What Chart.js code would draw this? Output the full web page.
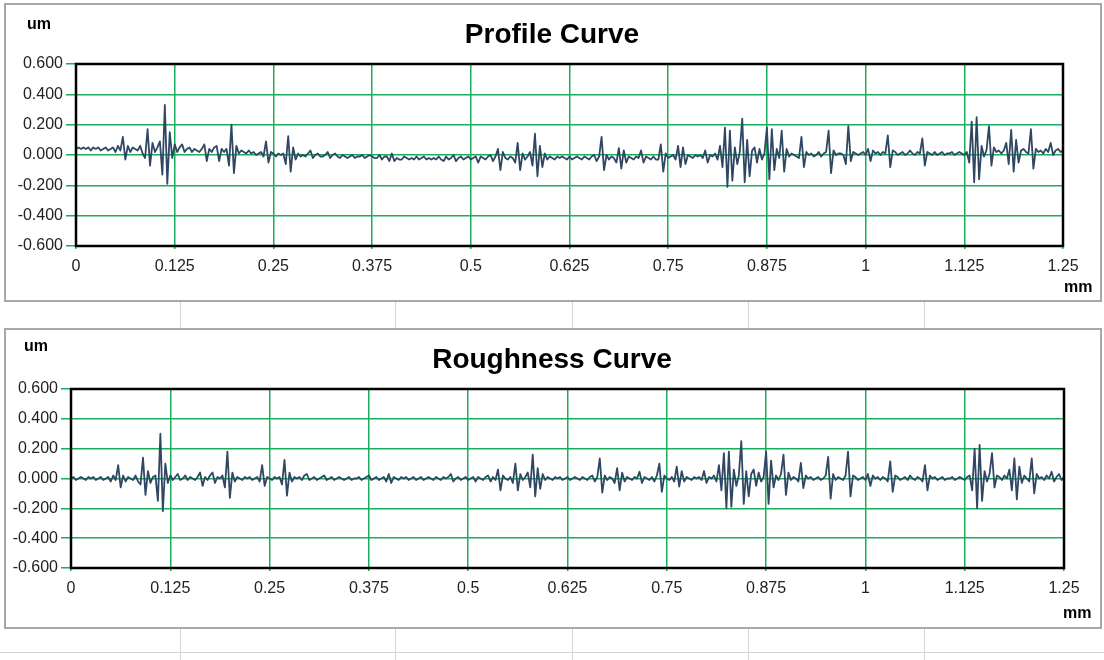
<!DOCTYPE html>
<html>
<head>
<meta charset="utf-8">
<script src="https://cdn.jsdelivr.net/npm/chart.js@4/dist/chart.umd.min.js"></script>
<style>
  body { margin: 0; background: #fff; font-family: Arial, "Liberation Sans", sans-serif; }
  #page { position: relative; width: 1104px; height: 660px; overflow: hidden; }
  .panel { position: absolute; left: 4px; width: 1094px; border: 2px solid #a8a8a8; background: #fff; }
  .cell-v { position: absolute; width: 1px; background: #d4d4d4; }
  .cell-h { position: absolute; height: 1px; background: #d4d4d4; }
  .txt { position: absolute; color: #000; white-space: nowrap; }
  .title { left: 0; width: 1104px; text-align: center; font-size: 28px; font-weight: bold; line-height: 32px; }
  .unit { font-size: 16px; font-weight: bold; line-height: 20px; }
  canvas { position: absolute; left: 0; }
</style>
</head>
<body>
<div id="page">
  <!-- spreadsheet cell lines behind the charts -->
  <div class="cell-v" style="left:180px;top:302px;height:28px"></div>
  <div class="cell-v" style="left:395px;top:302px;height:28px"></div>
  <div class="cell-v" style="left:572px;top:302px;height:28px"></div>
  <div class="cell-v" style="left:748px;top:302px;height:28px"></div>
  <div class="cell-v" style="left:924px;top:302px;height:28px"></div>
  <div class="cell-v" style="left:180px;top:629px;height:31px"></div>
  <div class="cell-v" style="left:395px;top:629px;height:31px"></div>
  <div class="cell-v" style="left:572px;top:629px;height:31px"></div>
  <div class="cell-v" style="left:748px;top:629px;height:31px"></div>
  <div class="cell-v" style="left:924px;top:629px;height:31px"></div>
  <div class="cell-h" style="left:0;top:652px;width:1104px"></div>

  <div class="panel" style="top:3px;height:295px"></div>
  <div class="panel" style="top:328px;height:297px"></div>

  <canvas id="profileChart" width="1104" height="300" style="top:0;width:1104px;height:300px"></canvas>
  <canvas id="roughChart" width="1104" height="360" style="top:300px;width:1104px;height:360px"></canvas>

  <div class="txt title" style="top:18px">Profile Curve</div>
  <div class="txt unit" style="left:27px;top:14px">um</div>
  <div class="txt unit" style="left:1064px;top:277px">mm</div>

  <div class="txt title" style="top:343px">Roughness Curve</div>
  <div class="txt unit" style="left:24px;top:336px">um</div>
  <div class="txt unit" style="left:1063px;top:603px">mm</div>
</div>

<script>
// sampling grid along the trace (mm)
const sampleStep = 0.003125;

const xTickLabels = ['0', '0.125', '0.25', '0.375', '0.5', '0.625', '0.75', '0.875', '1', '1.125', '1.25'];
const yTickLabels = ['-0.600', '-0.400', '-0.200', '0.000', '0.200', '0.400', '0.600'];

// profile curve, um (one row = 0.0625 mm)
const profileValues = [
  0.04,0.05,0.04,0.05,0.04,0.05,0.03,0.05,0.04,0.05,0.03,0.04,0.05,0.03,0.04,0.05,0.02,0.06,0.03,0.12,
  -0.03,0.06,0.02,0.05,0.04,0.03,0.06,0.01,-0.02,0.17,-0.07,0.08,0.02,0.05,0.09,-0.13,0.33,-0.19,0.15,-0.02,
  0.07,0.02,0.05,0.07,0.02,0.04,0.05,0.02,0.04,0.03,0.02,0.04,0.07,-0.04,0.04,0.02,0.05,0.06,-0.04,0.04,
  0.02,0.04,-0.07,0.20,-0.12,0.06,0.01,0.03,0.02,0.01,0.03,0.01,0.02,0.00,0.01,0.02,-0.01,0.09,-0.05,0.02,
  0.01,-0.01,0.01,0.00,0.01,-0.06,0.125,-0.11,0.05,-0.03,0.01,-0.01,0.00,-0.01,0.01,0.03,-0.02,0.00,0.01,-0.01,
  -0.01,0.00,0.02,-0.02,0.00,0.01,-0.01,-0.02,0.00,-0.01,-0.02,-0.01,0.00,-0.02,-0.01,-0.01,0.00,-0.02,-0.01,0.00,
  -0.01,-0.02,-0.02,0.00,-0.03,-0.01,-0.01,-0.04,0.01,-0.04,-0.02,-0.03,-0.03,-0.01,-0.02,-0.03,-0.02,-0.03,-0.01,-0.03,
  -0.02,-0.01,-0.03,-0.02,-0.03,-0.02,-0.03,-0.01,-0.03,-0.04,-0.01,-0.03,-0.02,0.00,-0.04,-0.02,-0.01,-0.03,-0.02,-0.01,
  -0.03,-0.02,-0.01,-0.05,-0.01,-0.02,-0.03,-0.01,0.00,-0.04,-0.01,0.04,-0.10,0.02,-0.02,-0.03,-0.01,-0.02,-0.05,0.08,
  -0.10,0.01,-0.03,-0.01,0.02,-0.07,0.14,-0.14,0.06,-0.08,0.01,-0.03,-0.01,-0.02,-0.03,-0.01,-0.02,-0.01,-0.02,-0.03,
  -0.01,-0.03,-0.02,-0.01,-0.02,-0.03,-0.01,-0.02,-0.03,-0.01,0.00,-0.04,-0.01,0.12,-0.10,0.00,-0.03,-0.01,-0.02,-0.05,
  0.045,-0.09,0.03,-0.05,-0.01,-0.02,-0.03,-0.01,-0.02,0.03,-0.05,-0.01,-0.02,-0.03,-0.01,-0.03,-0.03,0.07,-0.11,0.01,
  -0.02,-0.01,0.00,-0.03,0.06,-0.08,0.05,-0.06,0.00,-0.01,-0.02,0.00,-0.01,0.00,-0.02,0.03,-0.05,0.00,-0.01,0.01,
  -0.03,0.06,-0.08,0.18,-0.21,0.16,-0.17,0.05,-0.06,0.02,0.24,-0.18,0.10,-0.14,0.03,0.05,-0.05,0.04,-0.03,0.01,
  0.18,-0.16,0.17,-0.10,0.04,-0.02,0.16,-0.11,0.04,-0.01,0.01,0.00,-0.01,-0.02,0.12,-0.08,0.02,0.00,0.01,-0.01,
  0.00,0.02,-0.01,0.01,0.02,0.16,-0.12,0.03,0.00,0.01,0.01,0.00,-0.06,0.19,-0.04,0.02,0.01,0.00,0.01,0.02,
  0.00,0.04,-0.04,0.03,0.01,0.02,0.00,0.02,0.01,0.13,-0.08,0.03,0.02,0.00,0.01,0.02,0.00,0.01,0.03,0.01,
  0.00,0.02,0.01,0.11,-0.07,0.02,0.01,0.00,0.02,0.00,0.01,0.02,0.00,0.01,0.01,0.02,0.00,0.01,0.02,0.01,
  0.00,0.02,-0.05,0.22,-0.18,0.25,-0.16,0.06,-0.01,0.03,0.19,-0.07,0.05,0.02,0.03,0.01,0.03,0.08,-0.06,0.165,
  -0.11,0.10,-0.05,0.03,0.04,0.02,0.01,0.17,-0.09,0.04,0.02,0.03,0.01,0.04,0.02,0.08,0.00,0.03,0.04,0.02,
  0.03
];

// roughness curve, um
const roughnessValues = [
  0.00,0.01,-0.01,0.00,0.01,0.00,-0.01,0.01,0.00,0.01,-0.01,0.00,0.01,-0.01,0.00,0.01,-0.02,0.02,-0.01,0.09,
  -0.06,0.02,-0.02,0.01,0.00,-0.01,0.02,-0.02,-0.04,0.14,-0.11,0.05,-0.03,0.01,0.02,-0.15,0.30,-0.22,0.10,-0.03,
  0.02,-0.01,0.01,0.03,-0.01,0.00,0.02,-0.01,0.01,0.00,-0.01,0.01,0.04,-0.05,0.01,-0.01,0.02,0.04,-0.03,0.01,
  0.00,0.02,-0.06,0.18,-0.13,0.04,-0.02,0.01,0.00,-0.01,0.01,0.00,0.01,-0.01,0.00,0.01,-0.02,0.09,-0.05,0.01,
  0.00,-0.01,0.01,0.00,0.01,-0.04,0.125,-0.115,0.04,-0.02,0.01,0.00,0.01,-0.01,0.02,0.03,-0.01,0.00,0.01,-0.01,
  0.00,0.01,0.02,-0.01,0.00,0.01,-0.01,0.00,0.01,0.00,-0.01,0.00,0.01,-0.01,0.00,0.00,0.01,-0.01,0.00,0.01,
  0.02,-0.01,0.00,0.01,-0.01,0.00,0.01,-0.02,0.03,-0.03,0.01,0.00,-0.01,0.01,0.00,0.01,-0.01,0.00,0.01,-0.01,
  0.00,0.01,-0.01,0.00,0.01,0.00,-0.01,0.01,0.00,-0.01,0.01,0.00,0.01,0.03,-0.02,0.00,0.01,-0.01,0.00,0.01,
  -0.01,0.00,0.01,-0.02,0.01,0.00,-0.01,0.01,0.02,-0.02,0.01,-0.01,0.06,-0.08,0.02,0.00,-0.01,0.01,-0.03,0.10,
  -0.08,0.03,-0.01,0.01,0.04,-0.06,0.16,-0.12,0.07,-0.07,0.03,-0.01,0.01,0.00,-0.01,0.01,0.00,0.01,-0.01,0.00,
  0.01,-0.01,0.00,0.01,0.00,-0.01,0.01,0.00,-0.01,0.01,0.02,-0.02,0.01,0.135,-0.095,0.02,-0.01,0.01,0.00,-0.03,
  0.07,-0.08,0.04,-0.02,0.01,0.00,-0.01,0.01,0.00,0.045,-0.03,0.01,0.00,-0.01,0.01,-0.02,0.02,0.10,-0.09,0.02,
  0.00,-0.01,0.01,-0.02,0.08,-0.055,0.05,-0.02,0.01,0.00,-0.01,0.01,0.00,0.01,-0.01,0.05,-0.03,0.01,0.00,0.02,
  -0.02,0.09,-0.08,0.17,-0.20,0.18,-0.19,0.06,-0.05,0.02,0.25,-0.17,0.05,-0.12,0.03,0.06,-0.05,0.04,-0.02,0.01,
  0.18,-0.17,0.12,-0.06,0.02,-0.01,0.03,0.16,-0.11,0.04,-0.01,0.01,0.00,-0.02,0.105,-0.065,0.02,0.00,0.01,-0.01,
  0.00,0.01,-0.01,0.00,0.02,0.145,-0.135,0.03,-0.01,0.01,0.00,-0.01,0.02,0.18,-0.12,0.02,0.01,-0.01,0.00,0.01,
  -0.01,0.03,-0.05,0.02,0.00,0.01,-0.01,0.01,0.00,-0.02,0.115,-0.09,0.02,0.01,-0.01,0.00,0.01,-0.01,0.02,0.00,
  -0.01,0.01,0.00,-0.02,0.09,-0.08,0.02,0.00,0.01,-0.01,0.00,0.01,-0.01,0.00,0.00,0.01,-0.01,0.00,0.01,0.00,
  -0.01,0.01,0.02,-0.08,0.20,-0.20,0.225,-0.15,0.05,-0.02,0.03,0.17,-0.06,0.02,0.01,-0.01,0.02,0.00,0.06,-0.08,
  0.135,-0.14,0.08,-0.03,0.02,0.00,-0.02,0.135,-0.10,0.03,0.00,0.01,-0.01,0.02,0.00,0.045,-0.02,0.01,0.03,-0.01,
  0.01
];

const lineColor = '#2f4763';
const gridColor = '#19ad5c';

// black frame round the plot area
const frame = {
  id: 'frame',
  afterDatasetsDraw(chart) {
    const a = chart.chartArea;
    const ctx = chart.ctx;
    ctx.save();
    ctx.strokeStyle = '#000';
    ctx.lineWidth = 2.5;
    ctx.strokeRect(a.left, a.top, a.right - a.left, a.bottom - a.top);
    ctx.restore();
  }
};

function makeChart(id, values, pad) {
  const pts = values.map((v, i) => ({ x: i * sampleStep, y: v }));
  return new Chart(document.getElementById(id), {
    type: 'line',
    data: {
      datasets: [{
        data: pts,
        borderColor: lineColor,
        borderWidth: 1.8,
        borderJoinStyle: 'round',
        pointRadius: 0,
        tension: 0
      }]
    },
    options: {
      responsive: false,
      animation: false,
      events: [],
      layout: { autoPadding: false, padding: pad },
      plugins: { legend: { display: false }, tooltip: { enabled: false }, title: { display: false } },
      scales: {
        x: {
          type: 'linear',
          min: 0,
          max: 1.25,
          afterFit: s => { s.height = 30; },
          afterBuildTicks: s => { s.ticks = xTickLabels.map((t, i) => ({ value: i * 0.125 })); },
          ticks: {
            autoSkip: false,
            maxRotation: 0,
            padding: 8,
            color: '#222',
            font: { family: 'Arial, "Liberation Sans"', size: 16 },
            callback: (v, i) => xTickLabels[i]
          },
          grid: { color: gridColor, lineWidth: 1.5, tickLength: 3 },
          border: { display: false }
        },
        y: {
          min: -0.6,
          max: 0.6,
          afterFit: s => { s.width = 60; },
          afterBuildTicks: s => { s.ticks = yTickLabels.map(t => ({ value: parseFloat(t) })); },
          ticks: {
            padding: 3,
            color: '#222',
            font: { family: 'Arial, "Liberation Sans"', size: 16 },
            callback: (v, i) => yTickLabels[i]
          },
          grid: { color: gridColor, lineWidth: 1.5, tickLength: 10 },
          border: { display: false }
        }
      }
    },
    plugins: [frame]
  });
}

makeChart('profileChart', profileValues, { left: 16, right: 41, top: 64, bottom: 24 });
makeChart('roughChart', roughnessValues, { left: 11, right: 40, top: 89, bottom: 62 });
</script>
</body>
</html>
